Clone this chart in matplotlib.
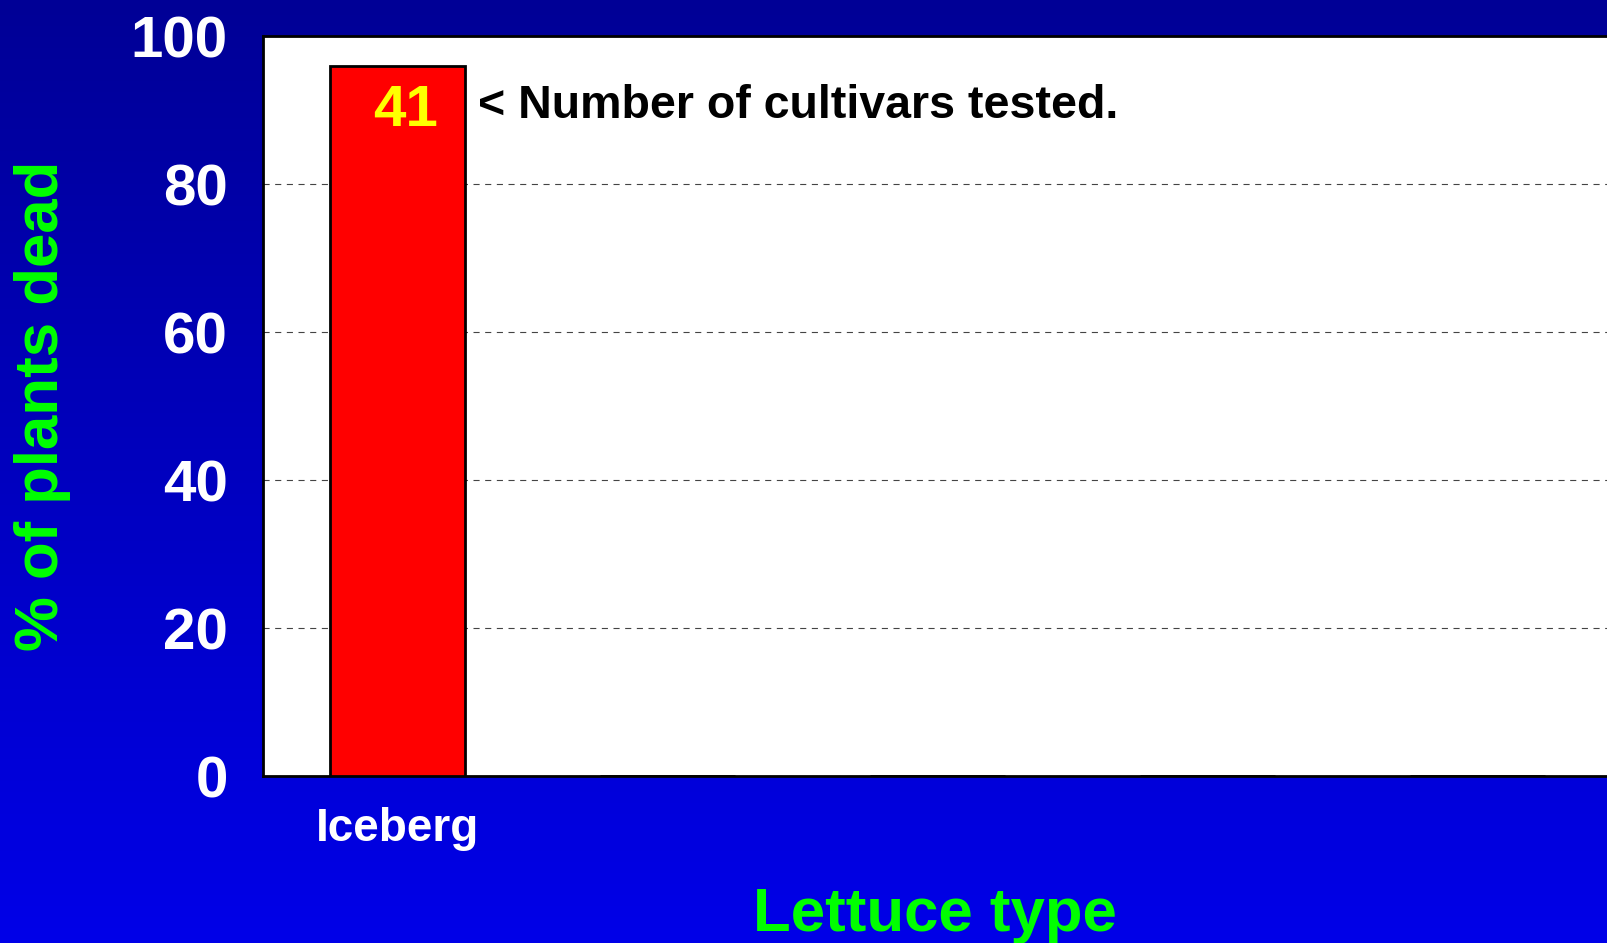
import numpy as np
import matplotlib
matplotlib.use("Agg")
import matplotlib.pyplot as plt

# data
categories = ["Iceberg", "", "", "", ""]
pct_dead = [96, 0, 0, 0, 0]
n_cultivars = ["41"]
yticks = [0, 20, 40, 60, 80, 100]

plt.rcParams['font.family'] = ['Liberation Sans', 'DejaVu Sans']
plt.rcParams['font.weight'] = 'bold'

fig = plt.figure(figsize=(16.08, 9.43), dpi=100)

# blue gradient background
bg = fig.add_axes([0, 0, 1, 1], zorder=-1)
grad = np.linspace(0, 1, 256).reshape(-1, 1)
top_col = np.array([0, 0, 150]) / 255.0
bot_col = np.array([0, 0, 232]) / 255.0
img = top_col + grad[:, :, None] * (bot_col - top_col)
bg.imshow(img, aspect='auto', extent=[0, 1, 0, 1], origin='upper')
bg.axis('off')

ax = fig.add_axes([262.5 / 1608, 1 - 776 / 943, 1 - 262.5 / 1608, 740 / 943])
ax.set_facecolor('white')

ind = np.arange(len(categories))
ax.bar(ind, pct_dead, 0.5, color='red', edgecolor='black', linewidth=2.0, zorder=3)

ax.set_xlim(-0.5, 4.485)
ax.set_ylim(0, 100)
ax.set_yticks(yticks)
ax.set_xticks(ind)
ax.set_xticklabels(categories)

ax.grid(axis='y', color='#444444', linestyle=(0, (5.5, 5)), linewidth=0.8, zorder=0)
ax.set_axisbelow(True)

ax.tick_params(axis='y', length=0, pad=25, labelsize=42, labelcolor='white')
ax.tick_params(axis='x', length=0, pad=22, labelsize=33, labelcolor='white')
for lbl in ax.get_xticklabels() + ax.get_yticklabels():
    lbl.set_fontweight('bold')

for s in ['left', 'top', 'bottom']:
    ax.spines[s].set_linewidth(2.0)
    ax.spines[s].set_color('black')
ax.spines['right'].set_visible(False)

ax.set_ylabel('% of plants dead', fontsize=44.5, color='#00FF00', fontweight='bold')
ax.yaxis.set_label_coords(-0.142, 0.5)
ax.set_xlabel('Lettuce type', fontsize=44.5, color='#00FF00', fontweight='bold')
ax.xaxis.set_label_coords(0.5, -0.15)

ax.text(0.03, 87.8, n_cultivars[0], color='#FFFF00', fontsize=42, fontweight='bold',
        ha='center', va='baseline', zorder=4)
ax.text(0.30, 88.9, '< Number of cultivars tested.', color='black', fontsize=33.5,
        fontweight='bold', ha='left', va='baseline', zorder=4)

fig.savefig('out.png', dpi=100)
